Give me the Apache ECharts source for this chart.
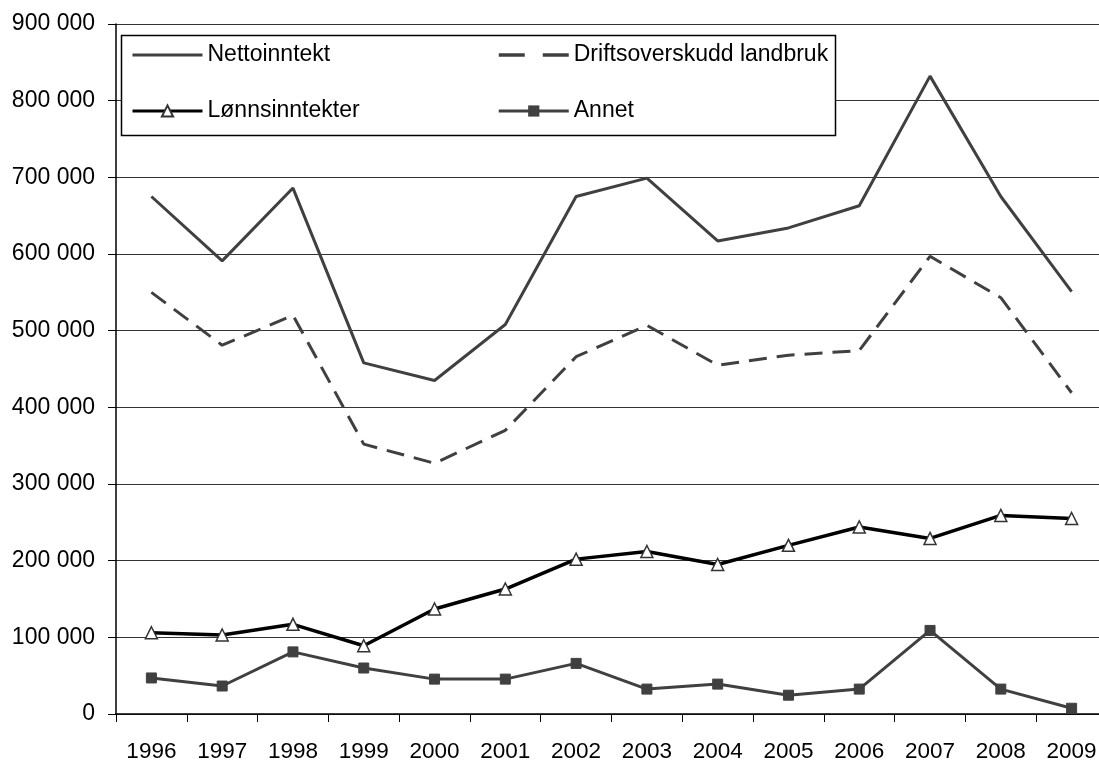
<!DOCTYPE html>
<html>
<head>
<meta charset="utf-8">
<script src="https://cdn.jsdelivr.net/npm/echarts@6/dist/echarts.min.js"></script>
<style>
  html, body { margin: 0; padding: 0; background: #fff; }
  #chart { width: 1099px; height: 760px; }
</style>
</head>
<body>
<div id="chart"></div>
<script>
// År og verdier (kr), lest av figuren
const years = ['1996', '1997', '1998', '1999', '2000', '2001', '2002', '2003', '2004', '2005', '2006', '2007', '2008', '2009']
const nettoinntekt = [675000, 591000, 686000, 458000, 435000, 508000, 675000, 699000, 617000, 634000, 663000, 832000, 675000, 551000]
const driftsoverskudd = [550000, 481000, 520000, 352000, 327000, 370000, 466000, 507000, 455000, 468000, 474000, 597000, 543000, 419000]
const lonnsinntekter = [106000, 103000, 117000, 89000, 137000, 163000, 202000, 212000, 195000, 220000, 244000, 229000, 259000, 255000]
const annet = [47000, 36500, 81000, 60000, 45500, 45500, 66000, 32500, 39000, 24500, 32500, 109000, 32500, 7500]

const FONT = '"Liberation Sans", Arial, sans-serif'
const DARK = '#404040'

// tusenskille med mellomrom: 900 000
function fmt(v) {
  return String(v).replace(/\B(?=(\d{3})+(?!\d))/g, ' ')
}

const chart = echarts.init(document.getElementById('chart'))

const legendText = { fontFamily: FONT, fontSize: 23, color: '#000', lineHeight: 24 }
// linjeserier uten markør: skjul sirkelen som legenden ellers tegner
const noMark = { color: 'transparent', borderWidth: 0 }

chart.setOption({
  animation: false,
  backgroundColor: '#fff',
  textStyle: { fontFamily: FONT },
  grid: { left: 116, top: 24, width: 991, height: 690, outerBoundsMode: 'none', containLabel: false },
  graphic: [{
    type: 'rect',
    z: 1,
    shape: { x: 121.5, y: 35.5, width: 714, height: 100 },
    style: { fill: '#fff', stroke: '#000', lineWidth: 1.5 }
  }],
  legend: [
    {
      orient: 'vertical', left: 131, top: 43, padding: 0,
      itemWidth: 70, itemHeight: 14, itemGap: 32,
      lineStyle: { width: 3 },
      data: [{ name: 'Nettoinntekt', itemStyle: noMark }, 'Lønnsinntekter'],
      textStyle: legendText
    },
    {
      orient: 'vertical', left: 497, top: 43, padding: 0,
      itemWidth: 70, itemHeight: 14, itemGap: 32,
      lineStyle: { width: 3 },
      data: [
        { name: 'Driftsoverskudd landbruk', itemStyle: noMark, lineStyle: { type: [26, 18], width: 3.5 } },
        'Annet'
      ],
      textStyle: legendText
    }
  ],
  xAxis: {
    type: 'category',
    data: years,
    boundaryGap: true,
    axisLine: { lineStyle: { color: '#000', width: 1.5 } },
    axisTick: { show: true, length: 8, lineStyle: { color: '#000' } },
    axisLabel: { fontSize: 22.5, color: '#000', margin: 26, fontFamily: FONT },
    splitLine: { show: false }
  },
  yAxis: {
    type: 'value',
    min: 0, max: 900000, interval: 100000,
    axisLine: { show: true, lineStyle: { color: '#000', width: 1.5 } },
    axisTick: { show: true, length: 8, lineStyle: { color: '#000' } },
    axisLabel: { fontSize: 23, color: '#000', margin: 21, fontFamily: FONT, formatter: fmt },
    splitLine: { show: true, lineStyle: { color: '#333', width: 1 } }
  },
  series: [
    {
      name: 'Nettoinntekt', type: 'line', data: nettoinntekt,
      symbol: 'none',
      lineStyle: { color: DARK, width: 3 },
      itemStyle: { color: DARK }
    },
    {
      name: 'Driftsoverskudd landbruk', type: 'line', data: driftsoverskudd,
      symbol: 'none',
      lineStyle: { color: DARK, width: 3, type: [18, 10] },
      itemStyle: { color: DARK }
    },
    {
      name: 'Lønnsinntekter', type: 'line', data: lonnsinntekter,
      symbol: 'triangle', symbolSize: 12,
      lineStyle: { color: '#000', width: 3.5 },
      itemStyle: { color: '#fff', borderColor: '#333', borderWidth: 1.5 }
    },
    {
      name: 'Annet', type: 'line', data: annet,
      symbol: 'rect', symbolSize: 10,
      lineStyle: { color: DARK, width: 3 },
      itemStyle: { color: DARK, borderColor: DARK }
    }
  ]
})
</script>
</body>
</html>
